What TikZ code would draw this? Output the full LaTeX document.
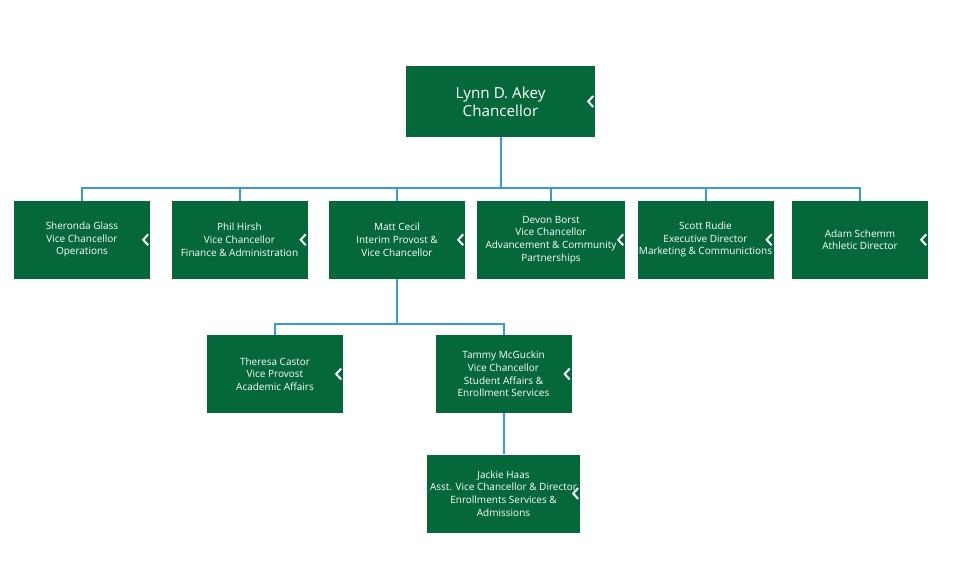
\documentclass[tikz,border=0pt]{standalone}
\usepackage{fontspec}
\setmainfont{Open Sans}
\usetikzlibrary{positioning}
\definecolor{boxgreen}{HTML}{05683A}
\definecolor{linkblue}{HTML}{3A9AD6}

\begin{document}
\begin{tikzpicture}[x=1pt,y=-1pt,
  box/.style={fill=boxgreen,text=white,align=center,minimum width=136pt,minimum height=78pt,inner sep=0pt,font=\fontsize{10}{12.6}\selectfont},
  link/.style={draw=linkblue,line width=2pt},
  chev/.style={draw=white,line width=2pt}]
\useasboundingbox (0,0) rectangle (953,582);
% chancellor
\node[box,minimum width=189pt,minimum height=71pt,font=\fontsize{15.2}{18}\selectfont] (akey) at (500.5,101.5) {Lynn D. Akey\\Chancellor};
% direct reports
\node[box] (sheronda) at (82,239.75) {Sheronda Glass\\Vice Chancellor\\Operations};
\node[box] (phil) at (239.5,239.75) {Phil Hirsh\\Vice Chancellor\\Finance \& Administration};
\node[box] (matt) at (397,239.75) {Matt Cecil\\Interim Provost \&\\Vice Chancellor};
\node[box,minimum width=148pt] (devon) at (551,239.75) {Devon Borst\\Vice Chancellor\\Advancement \& Community\\Partnerships};
\node[box] (scott) at (705.5,239.75) {Scott Rudie\\Executive Director\\Marketing \& Communictions};
\node[box] (adam) at (860,239.75) {Adam Schemm\\Athletic Director};
% provost
\node[box] (theresa) at (275,374) {Theresa Castor\\Vice Provost\\Academic Affairs};
\node[box] (tammy) at (503.5,374) {Tammy McGuckin\\Vice Chancellor\\Student Affairs \&\\Enrollment Services};
\node[box,minimum width=153pt] (jackie) at (503.5,493.5) {Jackie Haas\\Asst. Vice Chancellor \& Director\\Enrollments Services \&\\Admissions};

% connectors
\coordinate (bus1) at (500.5,188);
\coordinate (bus2) at (397,324);
\draw[link] (akey.south) -- (bus1);
\foreach \n in {sheronda,phil,matt,devon,scott,adam}
  \draw[link] (\n.north) |- (bus1);
\draw[link] (matt.south) -- (bus2);
\foreach \n in {theresa,tammy}
  \draw[link] (\n.north) |- (bus2);
\draw[link] (tammy.south) -- (jackie.north);

% collapse marks
\foreach \n in {akey,sheronda,phil,matt,devon,scott,adam,theresa,tammy,jackie}
  \draw[chev] ([shift={(-2,-5.5)}]\n.east) -- ([shift={(-7,0)}]\n.east) -- ([shift={(-2,5.5)}]\n.east);
\end{tikzpicture}
\end{document}
